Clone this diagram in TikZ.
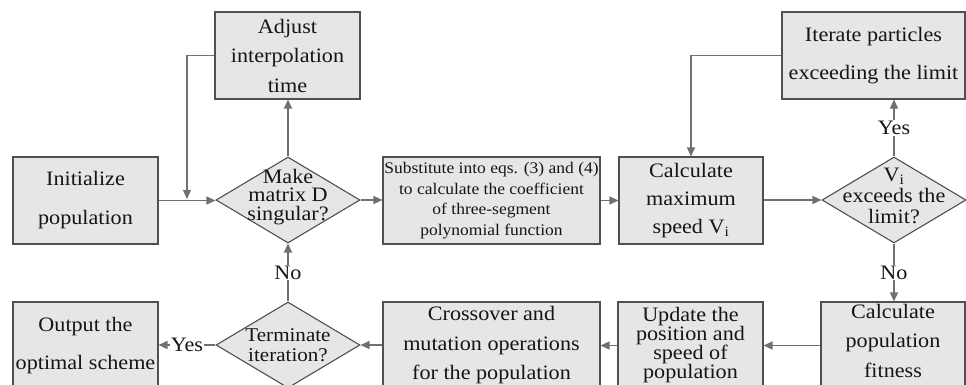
\documentclass[tikz,border=0pt]{standalone}
\usepackage{fontspec}
\setmainfont{Liberation Serif}[FakeStretch=1.08]
\usetikzlibrary{arrows.meta,shapes.geometric}
\definecolor{boxfill}{HTML}{E6E6E6}
\definecolor{boxdraw}{HTML}{505050}
\definecolor{linegray}{HTML}{707070}
\definecolor{txt}{HTML}{151515}
\begin{document}
\begin{tikzpicture}[x=1pt,y=-1pt,
  box/.style={draw=boxdraw,fill=boxfill,line width=1.1pt,inner sep=0pt,align=center,text=txt},
  dia/.style={diamond,draw=boxdraw,fill=boxfill,line width=1.1pt,inner sep=0pt,minimum width=144pt,minimum height=86pt},
  dtext/.style={align=center,text=txt,inner sep=0pt},
  arr/.style={draw=linegray,line width=1.2pt,-{Triangle[length=9pt,width=8pt]}},
  lab/.style={fill=white,text=txt,inner sep=1pt,font=\fontsize{20.5}{24}\selectfont}]
\useasboundingbox (0,0) rectangle (966,384);
\clip (0,0) rectangle (966,384);
% top row
\node[box,minimum width=145pt,minimum height=87pt,font=\fontsize{20.5}{29.5}\selectfont] (adjust) at (287.5,55.5) {Adjust\\interpolation\\time};
\node[box,minimum width=183pt,minimum height=87pt,font=\fontsize{20.5}{38}\selectfont] (iter) at (873.5,55.5) {Iterate particles\\exceeding the limit};
% middle row
\node[box,minimum width=145pt,minimum height=87pt,font=\fontsize{20.5}{39}\selectfont] (init) at (85.5,200.5) {Initialize\\population};
\node[dia] (make) at (288,200) {};
\node[dtext,font=\fontsize{20.5}{18.5}\selectfont] (maket) at (288,197) {Make\\matrix D\\singular?};
\node[box,minimum width=217pt,minimum height=87pt,font=\fontsize{16.2}{20.5}\selectfont] (subst) at (491.5,200.5) {Substitute into eqs. (3) and (4)\\to calculate the coefficient\\of three-segment\\polynomial function};
\node[box,minimum width=144pt,minimum height=87pt,font=\fontsize{20.5}{28}\selectfont] (calc) at (691,200.5) {Calculate\\maximum\\speed V\textsubscript{i}};
\node[dia] (vi) at (894,200) {};
\node[dtext,font=\fontsize{20.5}{21}\selectfont] (vit) at (894,196) {V\textsubscript{i}\\exceeds the\\limit?};
% bottom row
\node[box,minimum width=145pt,minimum height=87pt,font=\fontsize{20.5}{38}\selectfont] (output) at (85.5,345.5) {Output the\\optimal scheme};
\node[dia] (term) at (288,345) {};
\node[dtext,font=\fontsize{19.5}{19.5}\selectfont] (termt) at (288,345) {Terminate\\iteration?};
\node[box,minimum width=217pt,minimum height=87pt,font=\fontsize{20.5}{29.5}\selectfont] (cross) at (491.5,345.5) {Crossover and\\mutation operations\\for the population};
\node[box,minimum width=145pt,minimum height=87pt,font=\fontsize{20.5}{19}\selectfont] (update) at (690.5,345.5) {Update the\\position and\\speed of\\population};
\node[box,minimum width=144pt,minimum height=87pt,text depth=10pt,font=\fontsize{20.5}{29.5}\selectfont] (fit) at (893,345.5) {Calculate\\population\\fitness};
\coordinate (j1) at (187,199);
% connectors
\draw[arr] (init.east) -- (init.east -| make.west);
\draw[arr] (adjust.west) -| (j1);
\draw[arr] (make.north) -- (make.north |- adjust.south);
\draw[arr] (make.east) -- (make.east -| subst.west);
\draw[arr] (subst.east) -- (subst.east -| calc.west);
\draw[arr] (calc.east |- vi.west) -- (vi.west);
\draw[arr] (vi.north) -- node[lab]{Yes} (vi.north |- iter.south);
\draw[arr] (iter.west) -| (calc.north);
\draw[arr] (vi.south) -- node[lab]{No} (vi.south |- fit.north);
\draw[arr] (fit.west) -- (update.east);
\draw[arr] (update.west) -- (cross.east);
\draw[arr] (cross.west |- term.east) -- (term.east);
\draw[arr] (term.west) -- node[lab]{Yes} (term.west -| output.east);
\draw[arr] (term.north) -- node[lab]{No} (make.south);
\end{tikzpicture}
\end{document}
